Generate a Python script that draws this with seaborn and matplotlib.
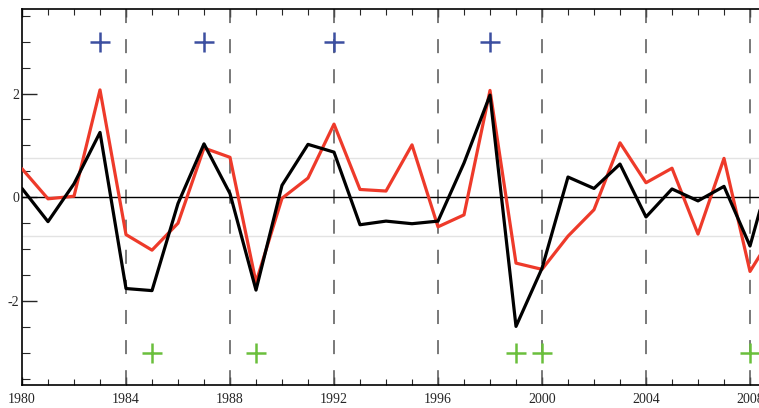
import matplotlib
matplotlib.use("Agg")
import matplotlib.pyplot as plt
from matplotlib.ticker import MultipleLocator
import seaborn as sns
import pandas as pd

years = list(range(1980, 2010))
red_values = [0.55, -0.03, 0.02, 2.07, -0.72, -1.02, -0.50, 0.95, 0.77, -1.64,
              -0.02, 0.37, 1.41, 0.15, 0.12, 1.01, -0.57, -0.34, 2.06, -1.27,
              -1.39, -0.75, -0.24, 1.05, 0.28, 0.56, -0.71, 0.75, -1.43, -0.62]
black_values = [0.17, -0.47, 0.26, 1.25, -1.76, -1.80, -0.12, 1.03, 0.07, -1.79,
                0.23, 1.02, 0.87, -0.53, -0.46, -0.51, -0.46, 0.66, 1.97, -2.49,
                -1.37, 0.39, 0.17, 0.64, -0.38, 0.16, -0.07, 0.21, -0.94, 0.86]
blue_years = [1983, 1987, 1992, 1998]
blue_level = [3.0, 3.0, 3.0, 3.0]
green_years = [1985, 1989, 1999, 2000, 2008]
green_level = [-3.0, -3.0, -3.0, -3.0, -3.0]
dashed_years = [1984, 1988, 1992, 1996, 2000, 2004, 2008]
band_levels = [0.75, -0.75]
xtick_years = [1980, 1984, 1988, 1992, 1996, 2000, 2004, 2008]
ytick_values = [-2, 0, 2]

sns.set_style("ticks")
plt.rcParams['font.family'] = ['Liberation Serif', 'DejaVu Serif']

fig = plt.figure(figsize=(7.59, 4.08), dpi=100)
ax = fig.add_axes([22/759, 23/408, 1 - 22/759, 376/408])

for lv in band_levels:
    ax.axhline(lv, color="#e3e3e3", lw=1.0, zorder=1)
ax.axhline(0, color="black", lw=1.0, zorder=2)
for yr in dashed_years:
    ax.axvline(yr, ymin=1, ymax=0, color="#555555", lw=1.1,
               ls=(0, (9.2, 10.5)), zorder=1)

df = pd.DataFrame({"year": years, "red": red_values, "black": black_values})
sns.lineplot(data=df, x="year", y="red", ax=ax, color="#ee3a2a", lw=2.3, zorder=3)
sns.lineplot(data=df, x="year", y="black", ax=ax, color="black", lw=2.3, zorder=4)

bdf = pd.DataFrame({"year": blue_years, "v": blue_level})
gdf = pd.DataFrame({"year": green_years, "v": green_level})
sns.scatterplot(data=bdf, x="year", y="v", ax=ax, marker="+", s=210,
                color="#3c4fa0", linewidth=1.8, zorder=5)
sns.scatterplot(data=gdf, x="year", y="v", ax=ax, marker="+", s=210,
                color="#6abf3c", linewidth=1.8, zorder=5)

ax.set_xlim(1980, 1980 + (759 - 22) / 26)
ax.set_ylim(-3.62, 3.63)
ax.set_xticks(xtick_years)
ax.set_xticklabels([str(y) for y in xtick_years])
ax.xaxis.set_minor_locator(MultipleLocator(1))
ax.set_yticks(ytick_values)
ax.set_yticklabels([str(v) for v in ytick_values])
ax.yaxis.set_minor_locator(MultipleLocator(0.5))
ax.tick_params(axis="x", which="major", direction="in", length=6, width=1,
               top=True, labelsize=10, pad=6)
ax.tick_params(axis="x", which="minor", direction="in", length=4, width=0.8, top=True)
ax.tick_params(axis="y", which="major", direction="in", length=11, width=1,
               labelsize=10, pad=2)
ax.tick_params(axis="y", which="minor", direction="in", length=5.5, width=0.8)
ax.set_xlabel("")
ax.set_ylabel("")
ax.spines["right"].set_visible(False)
for s in ["left", "bottom", "top"]:
    ax.spines[s].set_linewidth(1.2)
    ax.spines[s].set_color("black")

fig.savefig("out.png", dpi=100)
